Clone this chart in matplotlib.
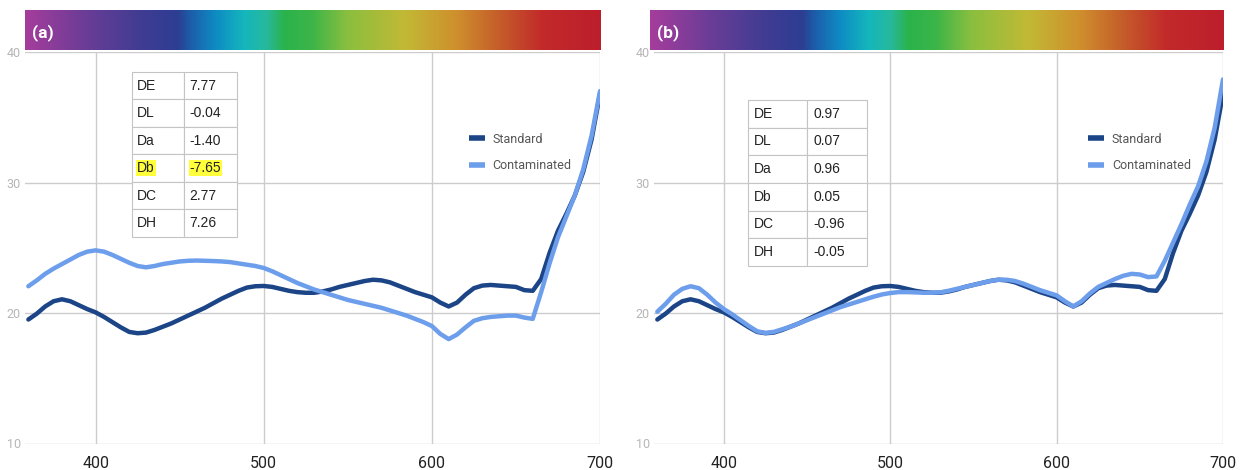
import numpy as np
import matplotlib
matplotlib.use("Agg")
import matplotlib.pyplot as plt
from matplotlib.colors import LinearSegmentedColormap
from matplotlib.lines import Line2D

plt.rcParams['font.family'] = ['Roboto', 'DejaVu Sans']

# wavelength (nm) and reflectance values
wavelength = np.arange(360, 701, 5)

standard = [19.5, 19.95, 20.5, 20.9, 21.05, 20.9, 20.6, 20.3, 20.05, 19.7,
            19.3, 18.9, 18.55, 18.45, 18.5, 18.7, 18.95, 19.2, 19.5, 19.8,
            20.1, 20.4, 20.75, 21.1, 21.4, 21.7, 21.95, 22.05, 22.07, 22.0,
            21.85, 21.7, 21.6, 21.55, 21.55, 21.65, 21.8, 22.0, 22.15, 22.3,
            22.45, 22.55, 22.5, 22.35, 22.1, 21.85, 21.6, 21.4, 21.2, 20.8,
            20.5, 20.8, 21.4, 21.9, 22.1, 22.15, 22.1, 22.05, 22.0, 21.75,
            21.7, 22.6, 24.6, 26.3, 27.6, 29.0, 30.8, 33.3, 36.8]

contaminated_a = [22.05, 22.5, 23.0, 23.4, 23.75, 24.1, 24.45, 24.7, 24.8, 24.7,
                  24.45, 24.15, 23.85, 23.6, 23.5, 23.6, 23.75, 23.85, 23.95, 24.0,
                  24.02, 24.0, 23.98, 23.95, 23.9, 23.8, 23.7, 23.6, 23.45, 23.2,
                  22.9, 22.6, 22.3, 22.05, 21.8, 21.6, 21.4, 21.2, 21.0, 20.85,
                  20.7, 20.55, 20.4, 20.2, 20.0, 19.8, 19.55, 19.3, 19.0, 18.4,
                  18.0, 18.35, 18.9, 19.4, 19.6, 19.7, 19.75, 19.8, 19.8, 19.65,
                  19.55, 21.6, 23.8, 25.8, 27.4, 29.0, 31.0, 33.6, 37.0]

contaminated_b = [20.1, 20.7, 21.4, 21.85, 22.05, 21.9, 21.4, 20.8, 20.3, 19.9,
                  19.45, 19.0, 18.6, 18.47, 18.55, 18.75, 18.95, 19.2, 19.45, 19.7,
                  19.95, 20.2, 20.45, 20.65, 20.85, 21.05, 21.25, 21.42, 21.53, 21.6,
                  21.6, 21.58, 21.55, 21.55, 21.58, 21.7, 21.85, 22.0, 22.15, 22.3,
                  22.45, 22.55, 22.55, 22.45, 22.25, 22.0, 21.75, 21.55, 21.35, 20.9,
                  20.5, 20.9, 21.5, 22.0, 22.3, 22.6, 22.85, 23.0, 22.95, 22.75,
                  22.8, 24.0, 25.4, 26.8, 28.3, 29.7, 31.6, 34.2, 37.9]

table_labels = ["DE", "DL", "Da", "Db", "DC", "DH"]
table_a = ["7.77", "-0.04", "-1.40", "-7.65", "2.77", "7.26"]
table_b = ["0.97", "0.07", "0.96", "0.05", "-0.96", "-0.05"]

x_ticks = [400, 500, 600, 700]
y_ticks = [10, 20, 30, 40]

STD_COLOR = '#1c4587'
CON_COLOR = '#6d9eeb'
GRID = '#cccccc'

spectrum = LinearSegmentedColormap.from_list('spectrum', [
    (0.00, '#a53c9c'), (0.10, '#6c3d97'), (0.20, '#403c92'), (0.265, '#2c3e92'),
    (0.285, '#1d5ba9'), (0.33, '#0e8bc3'), (0.38, '#14b6bd'), (0.42, '#27b99b'),
    (0.45, '#2ab34b'), (0.50, '#3db548'), (0.56, '#8abf3f'), (0.66, '#c2b935'),
    (0.75, '#cf8f2d'), (0.82, '#c5602a'), (0.90, '#c22a2a'), (1.00, '#bd1e2c')])

fig = plt.figure(figsize=(12.44, 4.70), dpi=100)
W, H = 1244, 470


def px_axes(x0, x1, y0, y1):
    # pixel box (top-left origin) -> figure fraction
    return [x0 / W, 1 - y1 / H, (x1 - x0) / W, (y1 - y0) / H]


def draw_table(ax, values, bbox, highlight=None):
    cells = [[k, v] for k, v in zip(table_labels, values)]
    tb = ax.table(cellText=cells, bbox=bbox, cellLoc='left', colWidths=[0.5, 0.5])
    tb.auto_set_font_size(False)
    tb.set_fontsize(10)
    tb.set_zorder(5)
    for (r, c), cell in tb.get_celld().items():
        cell.set_facecolor('white')
        cell.set_edgecolor('#c4c4c4')
        cell.set_linewidth(0.8)
        t = cell.get_text()
        t.set_color('#222222')
        t.set_fontfamily(['Liberation Sans', 'DejaVu Sans'])
        if r == highlight:
            t.set_bbox(dict(facecolor='#ffff3b', edgecolor='none', pad=0.8))
    return tb


panels = [
    dict(tag='(a)', con=contaminated_a, table=table_a, ax_px=(25, 600),
         cb_px=(25, 601), tbl=[0.186, 0.5275, 0.1826, 0.4215], hl=3, leg_x=0.772),
    dict(tag='(b)', con=contaminated_b, table=table_b, ax_px=(654, 1223),
         cb_px=(650, 1224), tbl=[0.1652, 0.4534, 0.2091, 0.424], hl=None, leg_x=0.763),
]

for p in panels:
    ax = fig.add_axes(px_axes(p['ax_px'][0], p['ax_px'][1], 52, 443.5))
    ax.set_xlim(358, 700)
    ax.set_ylim(10, 40)
    ax.set_xticks(x_ticks)
    ax.set_yticks(y_ticks)
    ax.grid(True, color=GRID, lw=1)
    ax.set_axisbelow(True)
    for s in ax.spines.values():
        s.set_visible(False)
    ax.tick_params(length=0)
    ax.tick_params(axis='x', labelsize=11.5, labelcolor='#222222', pad=9)
    ax.tick_params(axis='y', labelsize=9, labelcolor='#b5b5b5', pad=3)

    ax.plot(wavelength, standard, color=STD_COLOR, lw=3.2, solid_joinstyle='round',
            solid_capstyle='round', zorder=3)
    ax.plot(wavelength, p['con'], color=CON_COLOR, lw=3.2, solid_joinstyle='round',
            solid_capstyle='round', zorder=3)

    handles = [Line2D([], [], color=STD_COLOR, lw=4, solid_capstyle='butt'),
               Line2D([], [], color=CON_COLOR, lw=4, solid_capstyle='butt')]
    ax.legend(handles, ['Standard', 'Contaminated'], loc='upper left',
              bbox_to_anchor=(p['leg_x'], 0.794), frameon=False, fontsize=9,
              labelcolor='#555555', handlelength=1.25, handletextpad=0.65,
              labelspacing=1.1, borderpad=0, borderaxespad=0)

    draw_table(ax, p['table'], p['tbl'], highlight=p['hl'])

    cb = fig.add_axes(px_axes(p['cb_px'][0], p['cb_px'][1], 10, 50))
    cb.imshow(np.linspace(0, 1, 512)[None, :], cmap=spectrum, aspect='auto',
              extent=[0, 1, 0, 1])
    cb.set_axis_off()
    cb.text(0.013, 0.43, p['tag'], color='white', fontsize=12.5, fontweight='bold',
            va='center', ha='left', transform=cb.transAxes)

fig.savefig('out.png', dpi=100)
